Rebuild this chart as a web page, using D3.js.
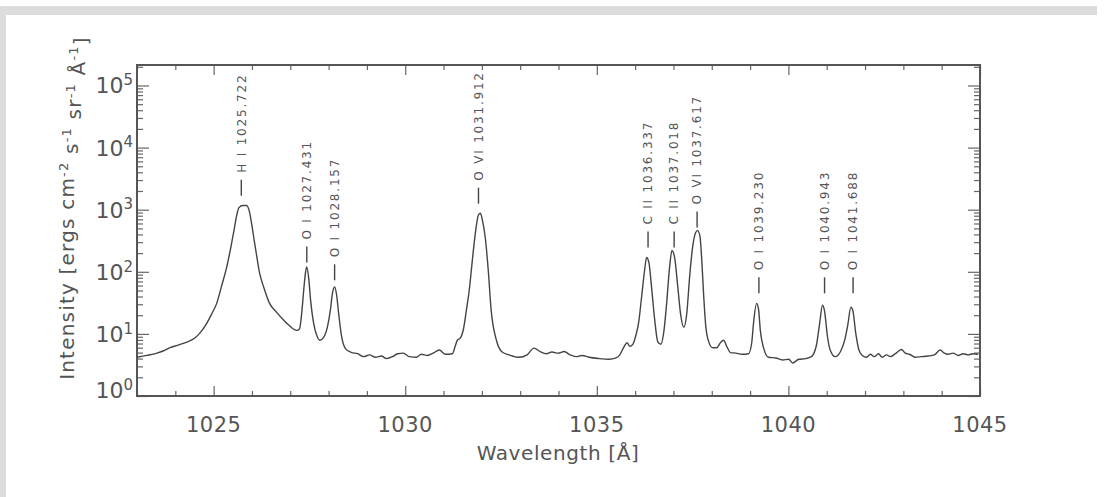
<!DOCTYPE html>
<html>
<head>
<meta charset="utf-8">
<script src="https://cdn.jsdelivr.net/npm/d3@7"></script>
<style>
  body { margin: 0; background: #fff; }
  text { font-family: "DejaVu Sans", sans-serif; fill: #555; }
</style>
</head>
<body>
<div id="chart"></div>
<script>
// spectrum (wavelength in Angstrom, intensity)
var wavelength = [
  1023.00, 1023.26, 1023.52, 1023.68, 1023.86, 1024.07, 1024.30, 1024.51, 1024.64, 1024.82,
  1024.95, 1025.08, 1025.21, 1025.34, 1025.45, 1025.53, 1025.60, 1025.66, 1025.76, 1025.86,
  1025.94, 1025.99, 1026.07, 1026.13, 1026.20, 1026.31, 1026.46, 1026.65, 1026.83, 1026.98,
  1027.17, 1027.24, 1027.30, 1027.35, 1027.40, 1027.43, 1027.48, 1027.53, 1027.61, 1027.69,
  1027.77, 1027.87, 1027.97, 1028.05, 1028.10, 1028.16, 1028.21, 1028.26, 1028.34, 1028.44,
  1028.60, 1028.76, 1028.91, 1029.07, 1029.22, 1029.38, 1029.51, 1029.67, 1029.80, 1029.95,
  1030.11, 1030.29, 1030.42, 1030.58, 1030.73, 1030.89, 1031.05, 1031.23, 1031.31, 1031.36,
  1031.44, 1031.52, 1031.60, 1031.67, 1031.75, 1031.83, 1031.91, 1031.96, 1032.01, 1032.09,
  1032.17, 1032.24, 1032.38, 1032.53, 1032.71, 1032.97, 1033.18, 1033.36, 1033.52, 1033.68,
  1033.83, 1033.99, 1034.15, 1034.30, 1034.46, 1034.61, 1034.80, 1035.06, 1035.32, 1035.50,
  1035.60, 1035.71, 1035.79, 1035.86, 1035.94, 1036.02, 1036.09, 1036.17, 1036.25, 1036.30,
  1036.36, 1036.43, 1036.51, 1036.59, 1036.67, 1036.75, 1036.82, 1036.90, 1036.96, 1037.03,
  1037.11, 1037.19, 1037.27, 1037.35, 1037.42, 1037.50, 1037.58, 1037.63, 1037.69, 1037.74,
  1037.79, 1037.84, 1037.92, 1038.02, 1038.13, 1038.23, 1038.31, 1038.39, 1038.49, 1038.63,
  1038.78, 1038.96, 1039.04, 1039.09, 1039.17, 1039.22, 1039.27, 1039.35, 1039.48, 1039.67,
  1039.85, 1040.01, 1040.11, 1040.27, 1040.45, 1040.60, 1040.73, 1040.81, 1040.89, 1040.94,
  1041.02, 1041.09, 1041.22, 1041.36, 1041.47, 1041.55, 1041.63, 1041.68, 1041.76, 1041.84,
  1041.93, 1042.04, 1042.14, 1042.24, 1042.35, 1042.45, 1042.56, 1042.66, 1042.79, 1042.95,
  1043.05, 1043.16, 1043.31, 1043.47, 1043.65, 1043.81, 1043.96, 1044.07, 1044.17, 1044.30,
  1044.43, 1044.56, 1044.69, 1044.82, 1044.95
];
var intensity = [
  4.2, 4.5, 4.9, 5.3, 6.0, 6.6, 7.4, 8.6, 10.3, 14.8,
  21, 31, 60, 118, 250, 460, 800, 1080, 1170, 1170,
  900, 600, 290, 170, 95, 56, 31, 22, 16.6, 13.5,
  11.4, 12, 22, 50, 100, 120, 80, 35, 14.8, 9.5,
  7.9, 8.8, 13, 25, 45, 57, 42, 22, 9, 5.8,
  5.0, 4.8, 4.3, 4.6, 4.2, 4.4, 4.0, 4.3, 4.8, 4.9,
  4.3, 4.2, 4.7, 4.5, 4.9, 5.5, 4.7, 4.8, 6.5, 7.9,
  8.6, 12, 25, 50, 150, 420, 820, 880, 700, 350,
  100, 25, 7.9, 5.1, 4.6, 4.2, 4.6, 5.9, 5.2, 4.8,
  5.1, 4.9, 5.2, 4.6, 4.3, 4.5, 4.2, 4.0, 3.9, 4.1,
  4.6, 6.2, 7.2, 6.3, 6.8, 9.5, 15, 40, 110, 170,
  140, 55, 17, 7.5, 6.8, 11, 30, 120, 220, 170,
  60, 20, 12.8, 22, 80, 250, 430, 460, 380, 150,
  40, 14, 7.5, 6.0, 6.0, 7.3, 7.9, 6.3, 5.0, 4.9,
  4.7, 4.8, 7, 15, 31, 25, 11, 6, 4.2, 4.1,
  3.8, 3.9, 3.4, 3.9, 4.0, 4.3, 6.5, 14, 29, 24,
  9, 5.5, 4.3, 5.2, 8, 14, 27, 24, 10, 5.5,
  4.5, 4.2, 4.7, 4.3, 4.8, 4.2, 4.6, 4.3, 4.8, 5.6,
  4.9, 4.7, 4.2, 4.3, 4.4, 4.6, 5.5, 4.9, 4.7, 4.9,
  4.5, 4.8, 4.6, 4.8, 4.7
];

// identified lines
var lineIons = ["H I", "O I", "O I", "O VI", "C II", "C II", "O VI", "O I", "O I", "O I"];
var lineWavelengths = ["1025.722", "1027.431", "1028.157", "1031.912", "1036.337",
                       "1037.018", "1037.617", "1039.230", "1040.943", "1041.688"];
// intensity level where each marker dash starts
var lineMarkLevels = [1680, 141, 73, 1250, 246, 246, 518, 45, 45, 45];

var xMajorTicks = [1025, 1030, 1035, 1040, 1045];
var yDecades = [1, 10, 100, 1000, 10000, 100000];

var svgWidth = 1107;
var svgHeight = 497;

var svg = d3.select("#chart")
  .append("svg")
  .attr("width", svgWidth)
  .attr("height", svgHeight);

// grey scan border
svg.append("rect").attr("x", 0).attr("y", 6).attr("width", 1097).attr("height", 9).attr("fill", "#dcdcdc");
svg.append("rect").attr("x", 0).attr("y", 6).attr("width", 6).attr("height", svgHeight - 6).attr("fill", "#dcdcdc");

var plot = { left: 137, right: 980, top: 65, bottom: 396 };

var x = d3.scaleLinear().domain([1023, 1045]).range([plot.left, plot.right]);
var y = d3.scaleLog().domain([1, Math.pow(10, 5.33)]).range([plot.bottom, plot.top]);

var xMinor = d3.range(1023, 1046).filter(function(v) { return v % 5 !== 0; });
var yMinor = [];
yDecades.forEach(function(d) {
  for (var k = 2; k <= 9; k++) {
    if (d * k <= y.domain()[1]) yMinor.push(d * k);
  }
});

function styleAxis(g) {
  g.select(".domain").remove();
  g.selectAll(".tick line").attr("stroke", "#666").attr("stroke-width", 1.2);
  g.selectAll(".tick text").remove();
}

// ticks pointing inward on all four sides
svg.append("g").attr("transform", "translate(0," + plot.bottom + ")")
  .call(d3.axisBottom(x).tickValues(xMajorTicks).tickSize(-10)).call(styleAxis);
svg.append("g").attr("transform", "translate(0," + plot.bottom + ")")
  .call(d3.axisBottom(x).tickValues(xMinor).tickSize(-5)).call(styleAxis);
svg.append("g").attr("transform", "translate(0," + plot.top + ")")
  .call(d3.axisTop(x).tickValues(xMajorTicks).tickSize(-10)).call(styleAxis);
svg.append("g").attr("transform", "translate(0," + plot.top + ")")
  .call(d3.axisTop(x).tickValues(xMinor).tickSize(-5)).call(styleAxis);

svg.append("g").attr("transform", "translate(" + plot.left + ",0)")
  .call(d3.axisLeft(y).tickValues(yDecades).tickSize(-12)).call(styleAxis);
svg.append("g").attr("transform", "translate(" + plot.left + ",0)")
  .call(d3.axisLeft(y).tickValues(yMinor).tickSize(-6)).call(styleAxis);
svg.append("g").attr("transform", "translate(" + plot.right + ",0)")
  .call(d3.axisRight(y).tickValues(yDecades).tickSize(-12)).call(styleAxis);
svg.append("g").attr("transform", "translate(" + plot.right + ",0)")
  .call(d3.axisRight(y).tickValues(yMinor).tickSize(-6)).call(styleAxis);

// frame
svg.append("rect")
  .attr("x", plot.left).attr("y", plot.top)
  .attr("width", plot.right - plot.left).attr("height", plot.bottom - plot.top)
  .attr("fill", "none").attr("stroke", "#555").attr("stroke-width", 2);

// x tick labels
svg.selectAll(".xlab")
  .data(xMajorTicks)
  .enter()
  .append("text")
  .attr("x", function(d) { return x(d); })
  .attr("y", 432)
  .attr("text-anchor", "middle")
  .attr("font-size", "21px")
  .attr("letter-spacing", "0.5px")
  .text(function(d) { return d; });

// y tick labels as 10^n
var ylab = svg.selectAll(".ylab")
  .data(yDecades)
  .enter()
  .append("text")
  .attr("x", 133)
  .attr("y", function(d, i) { return y(d) + 8 - (i === 0 ? 6 : 0); })
  .attr("text-anchor", "end")
  .attr("font-size", "22px");
ylab.append("tspan").text("10");
ylab.append("tspan")
  .attr("dy", "-0.55em")
  .attr("font-size", "15px")
  .text(function(d) { return Math.round(Math.log10(d)); });

// axis titles
svg.append("text")
  .attr("x", 558)
  .attr("y", 460)
  .attr("text-anchor", "middle")
  .attr("font-size", "20px")
  .attr("letter-spacing", "0.6px")
  .text("Wavelength [Å]");

var ytitle = svg.append("text")
  .attr("transform", "translate(74,208) rotate(-90)")
  .attr("text-anchor", "middle")
  .attr("font-size", "20px")
  .attr("letter-spacing", "1.2px");
ytitle.append("tspan").text("Intensity [ergs cm");
ytitle.append("tspan").attr("dy", "-0.5em").attr("font-size", "13px").text("-2");
ytitle.append("tspan").attr("dy", "0.5em").text(" s");
ytitle.append("tspan").attr("dy", "-0.5em").attr("font-size", "13px").text("-1");
ytitle.append("tspan").attr("dy", "0.5em").text(" sr");
ytitle.append("tspan").attr("dy", "-0.5em").attr("font-size", "13px").text("-1");
ytitle.append("tspan").attr("dy", "0.5em").text(" Å");
ytitle.append("tspan").attr("dy", "-0.5em").attr("font-size", "13px").text("-1");
ytitle.append("tspan").attr("dy", "0.5em").text("]");

// spectrum
var spectrum = wavelength.map(function(w, i) { return { w: w, v: intensity[i] }; });
var line = d3.line()
  .x(function(d) { return x(d.w); })
  .y(function(d) { return y(d.v); })
  .curve(d3.curveMonotoneX);

svg.append("path")
  .datum(spectrum)
  .attr("d", line)
  .attr("fill", "none")
  .attr("stroke", "#444")
  .attr("stroke-width", 1.4);

// line identifications
var marks = lineIons.map(function(ion, i) {
  return { ion: ion, w: +lineWavelengths[i], label: ion + " " + lineWavelengths[i], level: lineMarkLevels[i] };
});

var markGroup = svg.selectAll(".mark")
  .data(marks)
  .enter()
  .append("g")
  .attr("transform", function(d) { return "translate(" + x(d.w) + "," + y(d.level) + ")"; });

markGroup.append("line")
  .attr("x1", 0).attr("x2", 0)
  .attr("y1", 0).attr("y2", -16)
  .attr("stroke", "#444")
  .attr("stroke-width", 1.4);

markGroup.append("text")
  .attr("transform", "translate(0,-23) rotate(-90)")
  .attr("dy", "0.35em")
  .attr("font-size", "12px")
  .attr("letter-spacing", "1.8px")
  .text(function(d) { return d.label; });
</script>
</body>
</html>
